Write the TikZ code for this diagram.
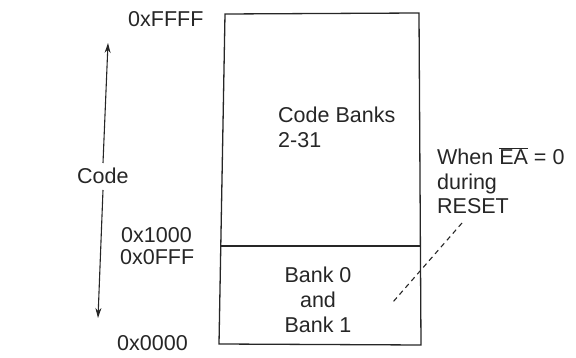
\documentclass[tikz,border=0pt]{standalone}
\usepackage{fontspec}
\setmainfont{Liberation Sans}
\usetikzlibrary{arrows.meta}
\begin{document}
\begin{tikzpicture}[x=1pt,y=-1pt,
  lbl/.style={font=\fontsize{21.5}{24.7}\selectfont, inner sep=0pt, text=black!85},
  box/.style={draw=black!85, line width=1.3pt},
  memarrow/.style={draw=black!85, line width=1.1pt, -{Stealth[length=10pt,width=6pt]}},
  hint/.style={draw=black!85, line width=1.1pt, dash pattern=on 5pt off 4pt}]
\useasboundingbox (0,0) rectangle (576,358);
% memory box corners
\coordinate (tl) at (225,14);
\coordinate (tr) at (419,13);
\coordinate (br) at (421,345);
\coordinate (bl) at (219,344);
\coordinate (dl) at (220,246);
\coordinate (dr) at (420,246);
\draw[box] (tl) -- (tr) -- (br) -- (bl) -- cycle;
\draw[box] (dl) -- (dr);
% labels (multi-line nodes: base = baseline of last line)
\node[lbl, anchor=base west] (ffff) at (128,27) {0xFFFF};
\node[lbl, anchor=base west] (x1000) at (121,243) {0x1000};
\node[lbl, anchor=base west] (x0fff) at (120,265) {0x0FFF};
\node[lbl, anchor=base west] (x0000) at (117,350) {0x0000};
\node[lbl, anchor=base west] (code) at (77,184) {Code};
\node[lbl, align=left, anchor=base west] (banks) at (278,147.5) {Code Banks\\2-31};
\node[lbl, align=center, anchor=base] (bank01) at (318,332) {Bank 0\\and\\Bank 1};
\node[lbl, align=left, anchor=base west] (when) at (437,214) {When $\overline{\mbox{EA}}$ = 0\\during\\RESET};
% arrows
\coordinate (upstart) at (103,163);
\coordinate (uptip) at (108,43);
\coordinate (dnstart) at (103,190);
\coordinate (dntip) at (98,318);
\draw[memarrow] (upstart) -- (uptip);
\draw[memarrow] (dnstart) -- (dntip);
% dashed pointer
\coordinate (dashstart) at (462,223);
\coordinate (dashend) at (393,302);
\draw[hint] (dashstart) -- (dashend);
\end{tikzpicture}
\end{document}
